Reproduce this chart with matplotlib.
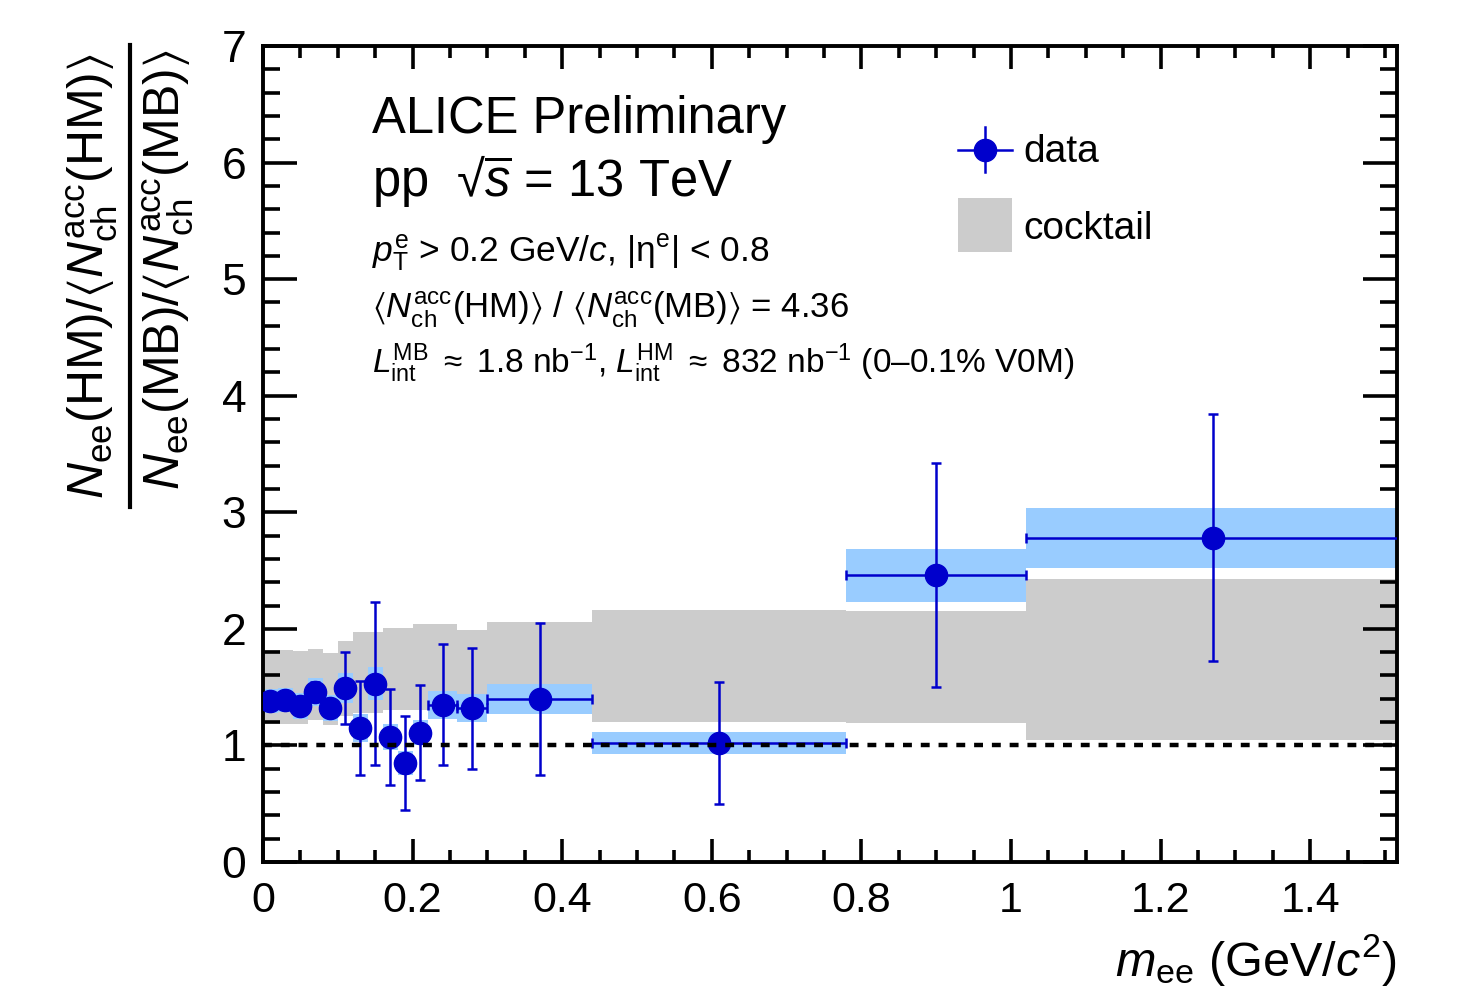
import numpy as np
import matplotlib
matplotlib.use("Agg")
import matplotlib.pyplot as plt
from matplotlib.lines import Line2D
from matplotlib.patches import Rectangle
from matplotlib.ticker import MultipleLocator

plt.rcParams['font.family'] = ['Liberation Sans', 'DejaVu Sans']
plt.rcParams['mathtext.fontset'] = 'custom'
plt.rcParams['mathtext.rm'] = 'Liberation Sans'
plt.rcParams['mathtext.it'] = 'Liberation Sans:italic'
plt.rcParams['mathtext.bf'] = 'Liberation Sans:bold'
plt.rcParams['mathtext.sf'] = 'Liberation Sans'
plt.rcParams['mathtext.fallback'] = 'stixsans'

# ---- data ----
bin_edges = [0.00, 0.02, 0.04, 0.06, 0.08, 0.10, 0.12, 0.14, 0.16, 0.18, 0.20,
             0.22, 0.26, 0.30, 0.44, 0.78, 1.02, 1.52]
ratio = [1.38, 1.39, 1.34, 1.46, 1.32, 1.49, 1.15, 1.53, 1.07, 0.85, 1.11,
         1.35, 1.32, 1.40, 1.02, 2.46, 2.78]
stat_err = [0.06, 0.06, 0.07, 0.08, 0.08, 0.31, 0.40, 0.70, 0.41, 0.40, 0.41,
            0.52, 0.52, 0.65, 0.52, 0.96, 1.06]
syst_err = [0.10, 0.10, 0.11, 0.12, 0.11, 0.13, 0.12, 0.14, 0.11, 0.10, 0.11,
            0.12, 0.12, 0.13, 0.096, 0.226, 0.255]
cocktail_high = [1.82, 1.82, 1.81, 1.83, 1.79, 1.90, 1.97, 1.97, 2.005, 2.005, 2.04,
                 2.04, 1.99, 2.055, 2.16, 2.155, 2.425]
cocktail_low = [1.18, 1.18, 1.18, 1.22, 1.175, 1.25, 1.28, 1.28, 1.30, 1.30, 1.30,
                1.30, 1.30, 1.32, 1.20, 1.19, 1.05]

edges = np.array(bin_edges)
lo = edges[:-1]
widths = np.diff(edges)
centers = lo + widths / 2
y = np.array(ratio)
st = np.array(stat_err)
sy = np.array(syst_err)
ch = np.array(cocktail_high)
cl = np.array(cocktail_low)

W, H = 1481, 988
fig = plt.figure(figsize=(W / 100, H / 100), dpi=100)
ax = fig.add_axes([263 / W, 1 - 862 / H, (1397 - 263) / W, (862 - 46) / H])

blue = '#0000cc'
ax.bar(lo, ch - cl, bottom=cl, width=widths, align='edge', color='#cccccc',
       linewidth=0, zorder=1)
ax.bar(centers, 2 * sy, bottom=y - sy, width=widths, align='center',
       color='#99ccff', linewidth=0, zorder=2)
ax.axhline(1.0, color='black', lw=3.2, ls=(0, (2.0, 2.0)), zorder=5)
ax.errorbar(centers, y, xerr=widths / 2, yerr=st, fmt='o', color=blue,
            ms=16, elinewidth=1.8, capsize=3.5, capthick=1.8, zorder=4)

ax.set_xlim(0, 1.516)
ax.set_ylim(0, 7)
ax.xaxis.set_major_locator(MultipleLocator(0.2))
ax.xaxis.set_minor_locator(MultipleLocator(0.05))
ax.yaxis.set_major_locator(MultipleLocator(1))
ax.yaxis.set_minor_locator(MultipleLocator(0.2))
ax.set_xticks([0, 0.2, 0.4, 0.6, 0.8, 1.0, 1.2, 1.4])
ax.set_xticklabels(['0', '0.2', '0.4', '0.6', '0.8', '1', '1.2', '1.4'])
for s in ax.spines.values():
    s.set_linewidth(2.8)
ax.tick_params(axis='x', which='major', direction='in', length=16.5, width=2.6,
               top=True, bottom=True, labelsize=31, pad=14)
ax.tick_params(axis='x', which='minor', direction='in', length=8.6, width=2.6,
               top=True, bottom=True)
ax.tick_params(axis='y', which='major', direction='in', length=24.5, width=2.6,
               left=True, right=True, labelsize=32, pad=12)
ax.tick_params(axis='y', which='minor', direction='in', length=12, width=2.6,
               left=True, right=True)

# x label
fig.text(1397 / W, 1 - 976 / H, r'$m_{\rm ee}$ (GeV/$c^{2}$)', ha='right',
         va='baseline', fontsize=35)

# y label (fraction)
fig.text(92 / W, 1 - 276 / H,
         r'$N_{\rm ee}$(HM)/$\langle N_{\rm ch}^{\rm acc}$(HM)$\rangle$',
         rotation=90, ha='center', va='center', fontsize=36)
fig.text(168 / W, 1 - 270 / H,
         r'$N_{\rm ee}$(MB)/$\langle N_{\rm ch}^{\rm acc}$(MB)$\rangle$',
         rotation=90, ha='center', va='center', fontsize=36)
fig.add_artist(Line2D([130 / W, 130 / W], [1 - 45 / H, 1 - 507 / H],
                      color='black', lw=3, transform=fig.transFigure))

# annotation texts
def fx(px):
    return (px - 263) / (1397 - 263)

def fy(py):
    return (862 - py) / (862 - 46)

ax.text(fx(372), fy(133), 'ALICE Preliminary', fontsize=36.5, ha='left',
        va='baseline', transform=ax.transAxes)
ax.text(fx(372), fy(197), r'pp  √$\overline{s}$ = 13 TeV', fontsize=36.5, ha='left',
        va='baseline', transform=ax.transAxes)
ax.text(fx(372), fy(262),
        r'$p_{\rm T}^{\rm e}$ > 0.2 GeV/$c$, |η$^{\rm e}$| < 0.8',
        fontsize=25.5, ha='left', va='baseline', transform=ax.transAxes)
ax.text(fx(372), fy(318),
        r'$\langle N_{\rm ch}^{\rm acc}$(HM)$\rangle$ / $\langle N_{\rm ch}^{\rm acc}$(MB)$\rangle$ = 4.36',
        fontsize=25, ha='left', va='baseline', transform=ax.transAxes)
ax.text(fx(372), fy(373),
        r'$L_{\rm int}^{\rm MB}$ $\approx$ 1.8 nb$^{-1}$, $L_{\rm int}^{\rm HM}$ $\approx$ 832 nb$^{-1}$ (0–0.1% V0M)',
        fontsize=24, ha='left', va='baseline', transform=ax.transAxes)

# legend (manual)
ax.add_line(Line2D([fx(958), fx(1012)], [fy(150), fy(150)], color=blue, lw=1.8,
                   transform=ax.transAxes, clip_on=False))
ax.add_line(Line2D([fx(985), fx(985)], [fy(127), fy(172)], color=blue, lw=1.8,
                   transform=ax.transAxes, clip_on=False))
ax.add_line(Line2D([fx(985)], [fy(150)], marker='o', ms=16, color=blue,
                   transform=ax.transAxes, clip_on=False))
ax.add_patch(Rectangle((fx(958), fy(252)), fx(1012) - fx(958), fy(198) - fy(252),
                       transform=ax.transAxes, color='#cccccc', lw=0))
ax.text(fx(1023), fy(152), 'data', fontsize=28, ha='left', va='center',
        transform=ax.transAxes)
ax.text(fx(1023), fy(229), 'cocktail', fontsize=28, ha='left', va='center',
        transform=ax.transAxes)

fig.savefig('out.png', dpi=100)
